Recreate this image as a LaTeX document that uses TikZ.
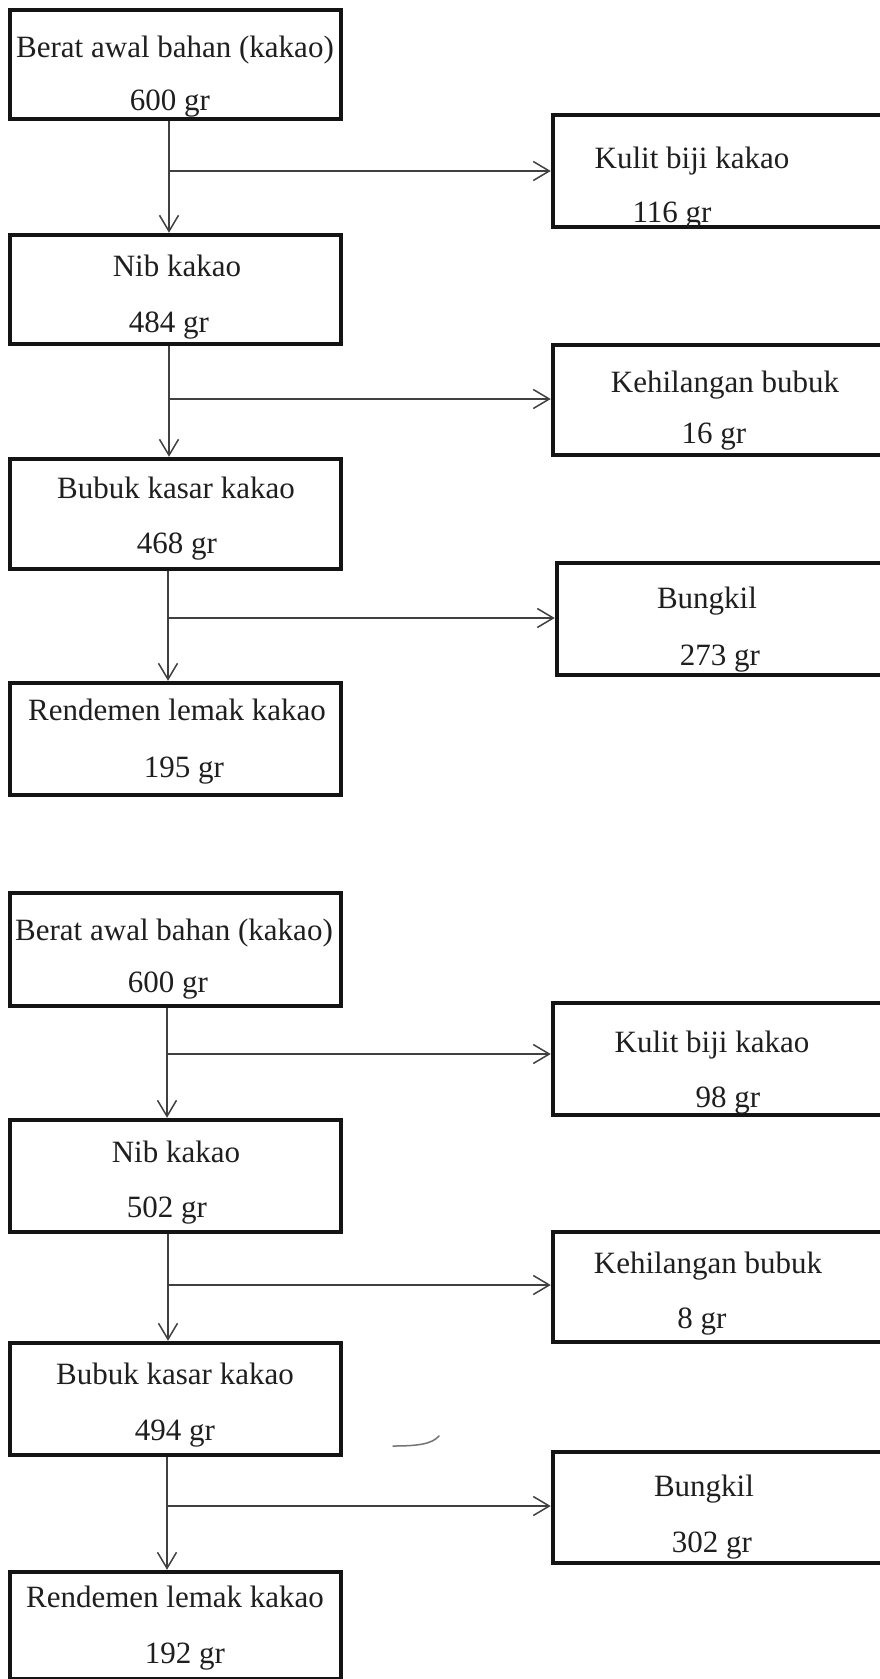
\documentclass[tikz,border=0pt]{standalone}
\usepackage{fontspec}
\setmainfont{Liberation Serif}
\usetikzlibrary{arrows.meta}
\begin{document}
\begin{tikzpicture}[x=1pt,y=-1pt,
  boxl/.style={draw=black!92, line width=4.5pt, rectangle, inner sep=0pt, minimum width=331pt},
  boxr/.style={draw=black!92, line width=4.5pt, rectangle, inner sep=0pt},
  txt/.style={anchor=base, inner sep=0pt, text=black!88, font=\fontsize{31}{36}\selectfont},
  conn/.style={draw=black!75, line width=1.5pt},
  arr/.style={conn, -{Straight Barb[length=16pt,width=19pt,line width=1.5pt]}}]
\useasboundingbox (0,0) rectangle (880,1679);
\fill[white] (0,0) rectangle (880,1679);
\clip (0,0) rectangle (880,1679);

% ---------------- diagram 1 ----------------
\node[boxl, minimum height=109pt] (b1) at (175.5,64.5) {};
\node[boxl, minimum height=109pt] (n1) at (175.5,289.5) {};
\node[boxl, minimum height=110pt] (k1) at (175.5,514) {};
\node[boxl, minimum height=112pt] (r1) at (175.5,739) {};
\node[boxr, minimum width=367pt, minimum height=112pt] (s1) at (736.5,171) {};
\node[boxr, minimum width=367pt, minimum height=110pt] (l1) at (736.5,400) {};
\node[boxr, minimum width=363pt, minimum height=112pt] (g1) at (738.5,619) {};

\coordinate (j1) at (169,171);
\coordinate (j2) at (169,399);
\coordinate (j3) at (168,618);

\draw[arr] (b1.south -| j1) -- (n1.north -| j1);
\draw[arr] (j1) -- (j1 -| s1.west);
\draw[arr] (n1.south -| j2) -- (k1.north -| j2);
\draw[arr] (j2) -- (j2 -| l1.west);
\draw[arr] (k1.south -| j3) -- (r1.north -| j3);
\draw[arr] (j3) -- (j3 -| g1.west);

\node[txt] (b1a) at (175,57) {Berat awal bahan (kakao)};
\node[txt] (b1b) at (170,110) {600 gr};
\node[txt] (n1a) at (177,276) {Nib kakao};
\node[txt] (n1b) at (169,332) {484 gr};
\node[txt] (k1a) at (176,498) {Bubuk kasar kakao};
\node[txt] (k1b) at (177,553) {468 gr};
\node[txt] (r1a) at (177,720) {Rendemen lemak kakao};
\node[txt] (r1b) at (184,777) {195 gr};
\node[txt] (s1a) at (692,168) {Kulit biji kakao};
\node[txt] (s1b) at (672,222) {116 gr};
\node[txt] (l1a) at (725,392) {Kehilangan bubuk};
\node[txt] (l1b) at (714,443) {16 gr};
\node[txt] (g1a) at (707,608) {Bungkil};
\node[txt] (g1b) at (720,665) {273 gr};

% ---------------- diagram 2 ----------------
\node[boxl, minimum height=113pt] (b2) at (175.5,949.5) {};
\node[boxl, minimum height=112pt] (n2) at (175.5,1176) {};
\node[boxl, minimum height=112pt] (k2) at (175.5,1399) {};
\node[boxl, minimum height=107pt] (r2) at (175.5,1625.5) {};
\node[boxr, minimum width=367pt, minimum height=112pt] (s2) at (736.5,1059) {};
\node[boxr, minimum width=367pt, minimum height=110pt] (l2) at (736.5,1287) {};
\node[boxr, minimum width=367pt, minimum height=111pt] (g2) at (736.5,1507.5) {};

\coordinate (j4) at (167,1054);
\coordinate (j5) at (168,1285);
\coordinate (j6) at (167,1506);

\draw[arr] (b2.south -| j4) -- (n2.north -| j4);
\draw[arr] (j4) -- (j4 -| s2.west);
\draw[arr] (n2.south -| j5) -- (k2.north -| j5);
\draw[arr] (j5) -- (j5 -| l2.west);
\draw[arr] (k2.south -| j6) -- (r2.north -| j6);
\draw[arr] (j6) -- (j6 -| g2.west);

\node[txt] (b2a) at (174,940) {Berat awal bahan (kakao)};
\node[txt] (b2b) at (168,992) {600 gr};
\node[txt] (n2a) at (176,1162) {Nib kakao};
\node[txt] (n2b) at (167,1217) {502 gr};
\node[txt] (k2a) at (175,1384) {Bubuk kasar kakao};
\node[txt] (k2b) at (175,1440) {494 gr};
\node[txt] (r2a) at (175,1607) {Rendemen lemak kakao};
\node[txt] (r2b) at (185,1663) {192 gr};
\node[txt] (s2a) at (712,1052) {Kulit biji kakao};
\node[txt] (s2b) at (728,1107) {98 gr};
\node[txt] (l2a) at (708,1273) {Kehilangan bubuk};
\node[txt] (l2b) at (702,1328) {8 gr};
\node[txt] (g2a) at (704,1496) {Bungkil};
\node[txt] (g2b) at (712,1552) {302 gr};

% stray pen mark
\draw[black!55, line width=1.5pt, line cap=round] (393,1446) .. controls (418,1446) and (432,1444) .. (439,1436);
\end{tikzpicture}
\end{document}
